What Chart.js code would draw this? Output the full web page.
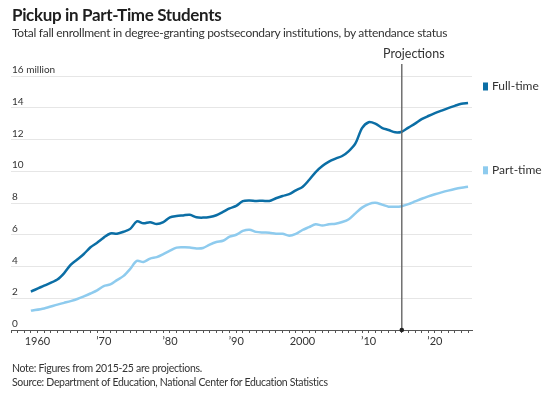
<!DOCTYPE html>
<html>
<head>
<meta charset="utf-8">
<script src="https://cdn.jsdelivr.net/npm/chart.js@4/dist/chart.umd.min.js"></script>
<style>
  body { margin: 0; background: #fff; font-family: Lato, "Open Sans", sans-serif; color: #333; }
  #wrap { position: relative; width: 550px; height: 398px; overflow: hidden; }
  #chart { position: absolute; left: 0; top: 0; }
  .txt { position: absolute; left: 12px; white-space: nowrap; }
  #title { top: 5px; font-size: 17px; line-height: 20px; font-weight: bold; color: #1e1e1e; letter-spacing: -0.35px; }
  #sub { top: 25px; font-size: 12px; line-height: 15px; color: #333; letter-spacing: -0.28px; }
  #note { top: 361px; font-size: 10.5px; line-height: 14px; letter-spacing: -0.3px; }
  #source { top: 375px; font-size: 10.5px; line-height: 14px; letter-spacing: -0.32px; }
</style>
</head>
<body>
<div id="wrap">
  <canvas id="chart" width="550" height="398"></canvas>
  <div class="txt" id="title">Pickup in Part-Time Students</div>
  <div class="txt" id="sub">Total fall enrollment in degree-granting postsecondary institutions, by attendance status</div>
  <div class="txt" id="note">Note: Figures from 2015-25 are projections.</div>
  <div class="txt" id="source">Source: Department of Education, National Center for Education Statistics</div>
</div>
<script>
// fall enrollment, millions of students
const years = [1959, 1961, 1963, 1964, 1965, 1966, 1967, 1968, 1969,
  1970, 1971, 1972, 1973, 1974, 1975, 1976, 1977, 1978, 1979,
  1980, 1981, 1982, 1983, 1984, 1985, 1986, 1987, 1988, 1989,
  1990, 1991, 1992, 1993, 1994, 1995, 1996, 1997, 1998, 1999,
  2000, 2001, 2002, 2003, 2004, 2005, 2006, 2007, 2008, 2009,
  2010, 2011, 2012, 2013, 2014, 2015, 2016, 2017, 2018, 2019,
  2020, 2021, 2022, 2023, 2024, 2025];

const fullTime = [2.42, 2.79, 3.18, 3.57, 4.10, 4.44, 4.79, 5.21, 5.50,
  5.82, 6.08, 6.07, 6.19, 6.37, 6.84, 6.72, 6.79, 6.67, 6.79,
  7.10, 7.18, 7.22, 7.26, 7.10, 7.08, 7.12, 7.23, 7.44, 7.66,
  7.82, 8.12, 8.16, 8.13, 8.14, 8.13, 8.30, 8.44, 8.56, 8.80,
  9.01, 9.45, 9.95, 10.33, 10.61, 10.80, 10.96, 11.27, 11.75, 12.72,
  13.09, 13.00, 12.74, 12.60, 12.45, 12.49, 12.75, 13.00, 13.28, 13.48,
  13.66, 13.82, 13.98, 14.12, 14.25, 14.30];

const partTime = [1.22, 1.36, 1.60, 1.71, 1.82, 1.95, 2.12, 2.30, 2.50,
  2.77, 2.87, 3.14, 3.41, 3.85, 4.35, 4.29, 4.50, 4.59, 4.78,
  5.00, 5.19, 5.21, 5.20, 5.14, 5.17, 5.38, 5.54, 5.62, 5.88,
  6.00, 6.24, 6.32, 6.18, 6.14, 6.13, 6.07, 6.06, 5.94, 6.05,
  6.30, 6.48, 6.66, 6.58, 6.66, 6.69, 6.80, 6.98, 7.35, 7.71,
  7.93, 8.01, 7.90, 7.77, 7.76, 7.80, 7.93, 8.10, 8.27, 8.42,
  8.55, 8.67, 8.78, 8.88, 8.96, 9.02];

const seriesNames = ['Full-time', 'Part-time'];
const seriesColors = ['#0b6ea5', '#8ecbee'];
const yTicks = [0, 2, 4, 6, 8, 10, 12, 14, 16];
const projectionYear = 2015;

const FONT = 'Lato, "Open Sans", sans-serif';

function xLabel(v) {
  if (v % 10 !== 0) return '';
  if (v === 1960 || v === 2000) return String(v);
  return '\u2019' + String(v).slice(2);
}

const overlay = {
  id: 'overlay',
  afterDatasetsDraw(chart) {
    const { ctx, scales: { x, y }, chartArea } = chart;
    const px = x.getPixelForValue(projectionYear);
    ctx.save();
    ctx.strokeStyle = '#666';
    ctx.lineWidth = 1.4;
    ctx.beginPath();
    ctx.moveTo(px, 64);
    ctx.lineTo(px, y.getPixelForValue(0));
    ctx.stroke();
    ctx.fillStyle = '#222';
    ctx.beginPath();
    ctx.arc(px, y.getPixelForValue(0), 2.3, 0, Math.PI * 2);
    ctx.fill();
    ctx.font = '12.5px ' + FONT;
    ctx.fillStyle = '#333';
    ctx.textAlign = 'center';
    ctx.textBaseline = 'middle';
    ctx.fillText('Projections', px + 12, 54);

    // labels beside the line ends
    ctx.font = '12px ' + FONT;
    ctx.textAlign = 'left';
    chart.data.datasets.forEach((ds) => {
      const last = ds.data[ds.data.length - 1];
      const ly = y.getPixelForValue(last.y) - 16.5;
      const lx = chartArea.right + 11;
      ctx.fillStyle = ds.borderColor;
      ctx.fillRect(lx, ly - 4, 5, 8);
      ctx.fillStyle = '#333';
      ctx.fillText(ds.label, lx + 9, ly);
    });
    ctx.restore();
  }
};

new Chart(document.getElementById('chart'), {
  type: 'line',
  data: {
    datasets: [fullTime, partTime].map((vals, i) => ({
      label: seriesNames[i],
      data: years.map((yr, j) => ({ x: yr, y: vals[j] })),
      borderColor: seriesColors[i],
      borderWidth: 2.5,
      pointRadius: 0,
      tension: 0.3,
      fill: false
    }))
  },
  options: {
    responsive: false,
    animation: false,
    devicePixelRatio: 1,
    layout: { padding: { top: 76, left: 11, right: 78, bottom: 46 } },
    plugins: { legend: { display: false }, tooltip: { enabled: false } },
    scales: {
      x: {
        type: 'linear',
        min: 1956,
        max: 2025.6,
        afterFit(scale) { scale.height = 22; },
        border: { display: true, color: '#555', width: 1 },
        grid: { drawOnChartArea: false, drawTicks: true, tickLength: 3, color: '#555' },
        ticks: {
          stepSize: 1,
          includeBounds: false,
          autoSkip: false,
          maxRotation: 0,
          maxTicksLimit: 200,
          padding: 2,
          color: '#333',
          font: { family: FONT, size: 11 },
          callback: (v) => xLabel(v)
        }
      },
      y: {
        min: 0,
        max: 16,
        afterFit(scale) { scale.width = 0; },
        afterBuildTicks(scale) { scale.ticks = yTicks.map((v) => ({ value: v })); },
        border: { display: false },
        grid: { color: '#e6e6e6', drawTicks: false, lineWidth: 1 },
        ticks: {
          mirror: true,
          padding: 1,
          labelOffset: -6,
          color: '#333',
          font: { family: FONT, size: 10 },
          callback: (v) => (v === 16 ? '16 million' : String(v))
        }
      }
    }
  },
  plugins: [overlay]
});
</script>
</body>
</html>
